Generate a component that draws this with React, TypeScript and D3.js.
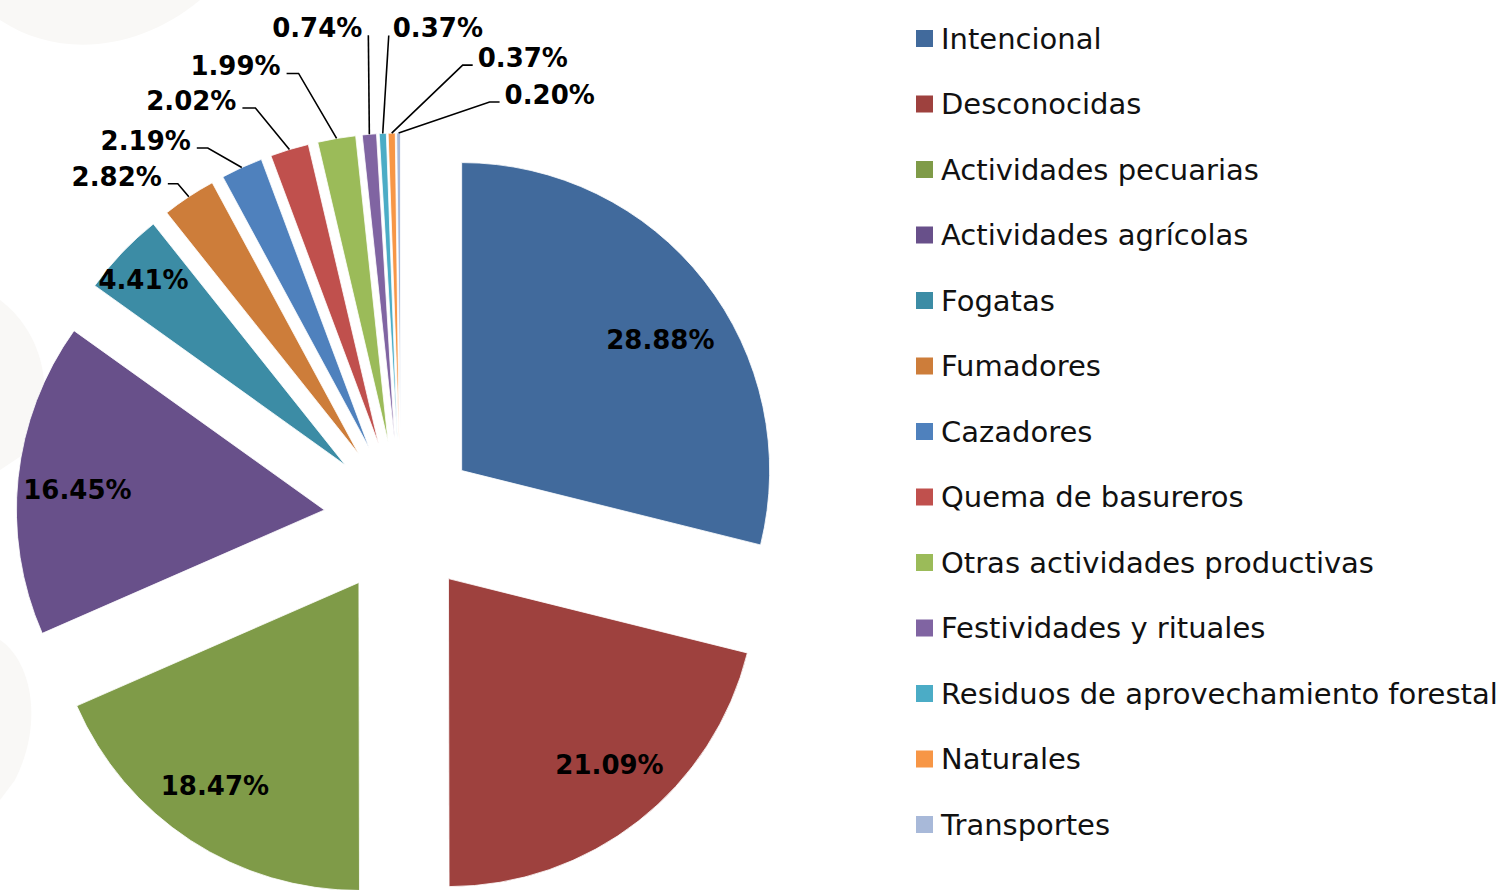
import React from "react";
import * as d3 from "d3";

// ---- Data ----
const categories = [
  "Intencional",
  "Desconocidas",
  "Actividades pecuarias",
  "Actividades agrícolas",
  "Fogatas",
  "Fumadores",
  "Cazadores",
  "Quema de basureros",
  "Otras actividades productivas",
  "Festividades y rituales",
  "Residuos de aprovechamiento forestal",
  "Naturales",
  "Transportes",
];
const values = [28.88, 21.09, 18.47, 16.45, 4.41, 2.82, 2.19, 2.02, 1.99, 0.74, 0.37, 0.37, 0.2];
const colors = [
  "#416a9c", "#9e413e", "#7f9b48", "#68508a", "#3c8ca5", "#cd7d3a", "#4f81bd",
  "#c0504d", "#9bbb59", "#8064a2", "#4bacc6", "#f79646", "#a8b9d9",
];

// ---- Layout (not data) ----
const W = 1506;
const H = 890;
const CX = 401;
const CY = 518;
const R = 308;
const EXPLODE = 77;
// inside label nudges (px) applied after centroid placement
const INSIDE_NUDGE: Record<number, [number, number]> = {
  0: [7, 19],
  1: [11, -5],
  2: [-11, 0],
  3: [-5, 5],
  4: [-3, 4],
};
// leader nudges for outside labels, relative to slice's outer arc midpoint: [dx, dy, horizontal segment]
const LEADERS: Record<number, [number, number, number]> = {
  5: [-11, -13, -10],
  6: [-34, -19.5, -11],
  7: [-34, -41.5, -13],
  8: [-38, -65, -12],
  9: [-1, -99, 0],
  10: [6, -98, 0],
  11: [71, -68, 10],
  12: [91, -31, 10],
};

export default function App() {
  const pie = d3
    .pie<number>()
    .sort(null)
    .value((d) => d)
    .startAngle(0)
    .endAngle(Math.PI * 2);
  const arcs = pie(values);
  const arcGen = d3.arc<d3.PieArcDatum<number>>().innerRadius(0).outerRadius(R);

  const legendY = d3.scalePoint<number>().domain(d3.range(categories.length)).range([38.5, 824.5]);

  const labelFont = "'DejaVu Sans', sans-serif";

  return (
    <svg
      width={W}
      height={H}
      style={{ position: "absolute", left: 0, top: 0, background: "#ffffff" }}
      xmlns="http://www.w3.org/2000/svg"
    >
      <rect x={0} y={0} width={W} height={H} fill="#ffffff" />
      {/* very faint watermark shapes on the left */}
      <g fill="#f9f8f6">
        <path d="M0,20 C60,60 140,50 200,0 L0,0 Z" />
        <path d="M0,300 C40,330 60,390 30,450 L0,470 Z" />
        <path d="M0,640 C30,660 45,720 15,780 L0,800 Z" />
      </g>
      {arcs.map((a, i) => {
        const mid = (a.startAngle + a.endAngle) / 2;
        const ox = CX + EXPLODE * Math.sin(mid);
        const oy = CY - EXPLODE * Math.cos(mid);
        return (
          <path
            key={categories[i]}
            d={arcGen(a) || ""}
            transform={`translate(${ox},${oy})`}
            fill={colors[i]}
            stroke="#ffffff"
            strokeWidth={0.8}
          />
        );
      })}
      {arcs.map((a, i) => {
        const mid = (a.startAngle + a.endAngle) / 2;
        const sx = Math.sin(mid);
        const sy = -Math.cos(mid);
        const ox = CX + EXPLODE * sx;
        const oy = CY - EXPLODE * Math.cos(mid);
        const text = values[i].toFixed(2) + "%";
        if (!(i in LEADERS)) {
          const f = values[i] > 10 ? 0.79 : 0.89;
          const [nx, ny] = INSIDE_NUDGE[i] || [0, 0];
          return (
            <text
              key={"l" + i}
              x={ox + sx * R * f + nx}
              y={oy + sy * R * f + ny}
              textAnchor="middle"
              dominantBaseline="central"
              fontFamily={labelFont}
              fontWeight="bold"
              fontSize={26}
              fill="#000"
            >
              {text}
            </text>
          );
        }
        const [dx, dy, hz] = LEADERS[i];
        const px = ox + sx * R;
        const py = oy + sy * R;
        const ex = px + dx;
        const ey = py + dy;
        const hx = ex + hz;
        let tx: number;
        let anchor: "start" | "end";
        if (hz < 0) {
          tx = hx - 6;
          anchor = "end";
        } else if (hz > 0) {
          tx = hx + 5;
          anchor = "start";
        } else if (dx < 0) {
          tx = ex - 6;
          anchor = "end";
        } else {
          tx = ex + 4;
          anchor = "start";
        }
        const baseline = ey + 2;
        return (
          <g key={"l" + i}>
            <polyline
              points={`${px},${py} ${ex},${ey} ${hx},${ey}`}
              fill="none"
              stroke="#000"
              strokeWidth={1.6}
            />
            <text
              x={tx}
              y={baseline}
              textAnchor={anchor}
              fontFamily={labelFont}
              fontWeight="bold"
              fontSize={26}
              fill="#000"
            >
              {text}
            </text>
          </g>
        );
      })}
      {categories.map((c, i) => {
        const y = legendY(i) as number;
        return (
          <g key={"lg" + i}>
            <rect x={916} y={y - 8.5} width={17} height={17} fill={colors[i]} />
            <text
              x={941}
              y={y + 10}
              fontFamily={labelFont}
              fontSize={29}
              fill="#111"
            >
              {c}
            </text>
          </g>
        );
      })}
    </svg>
  );
}
